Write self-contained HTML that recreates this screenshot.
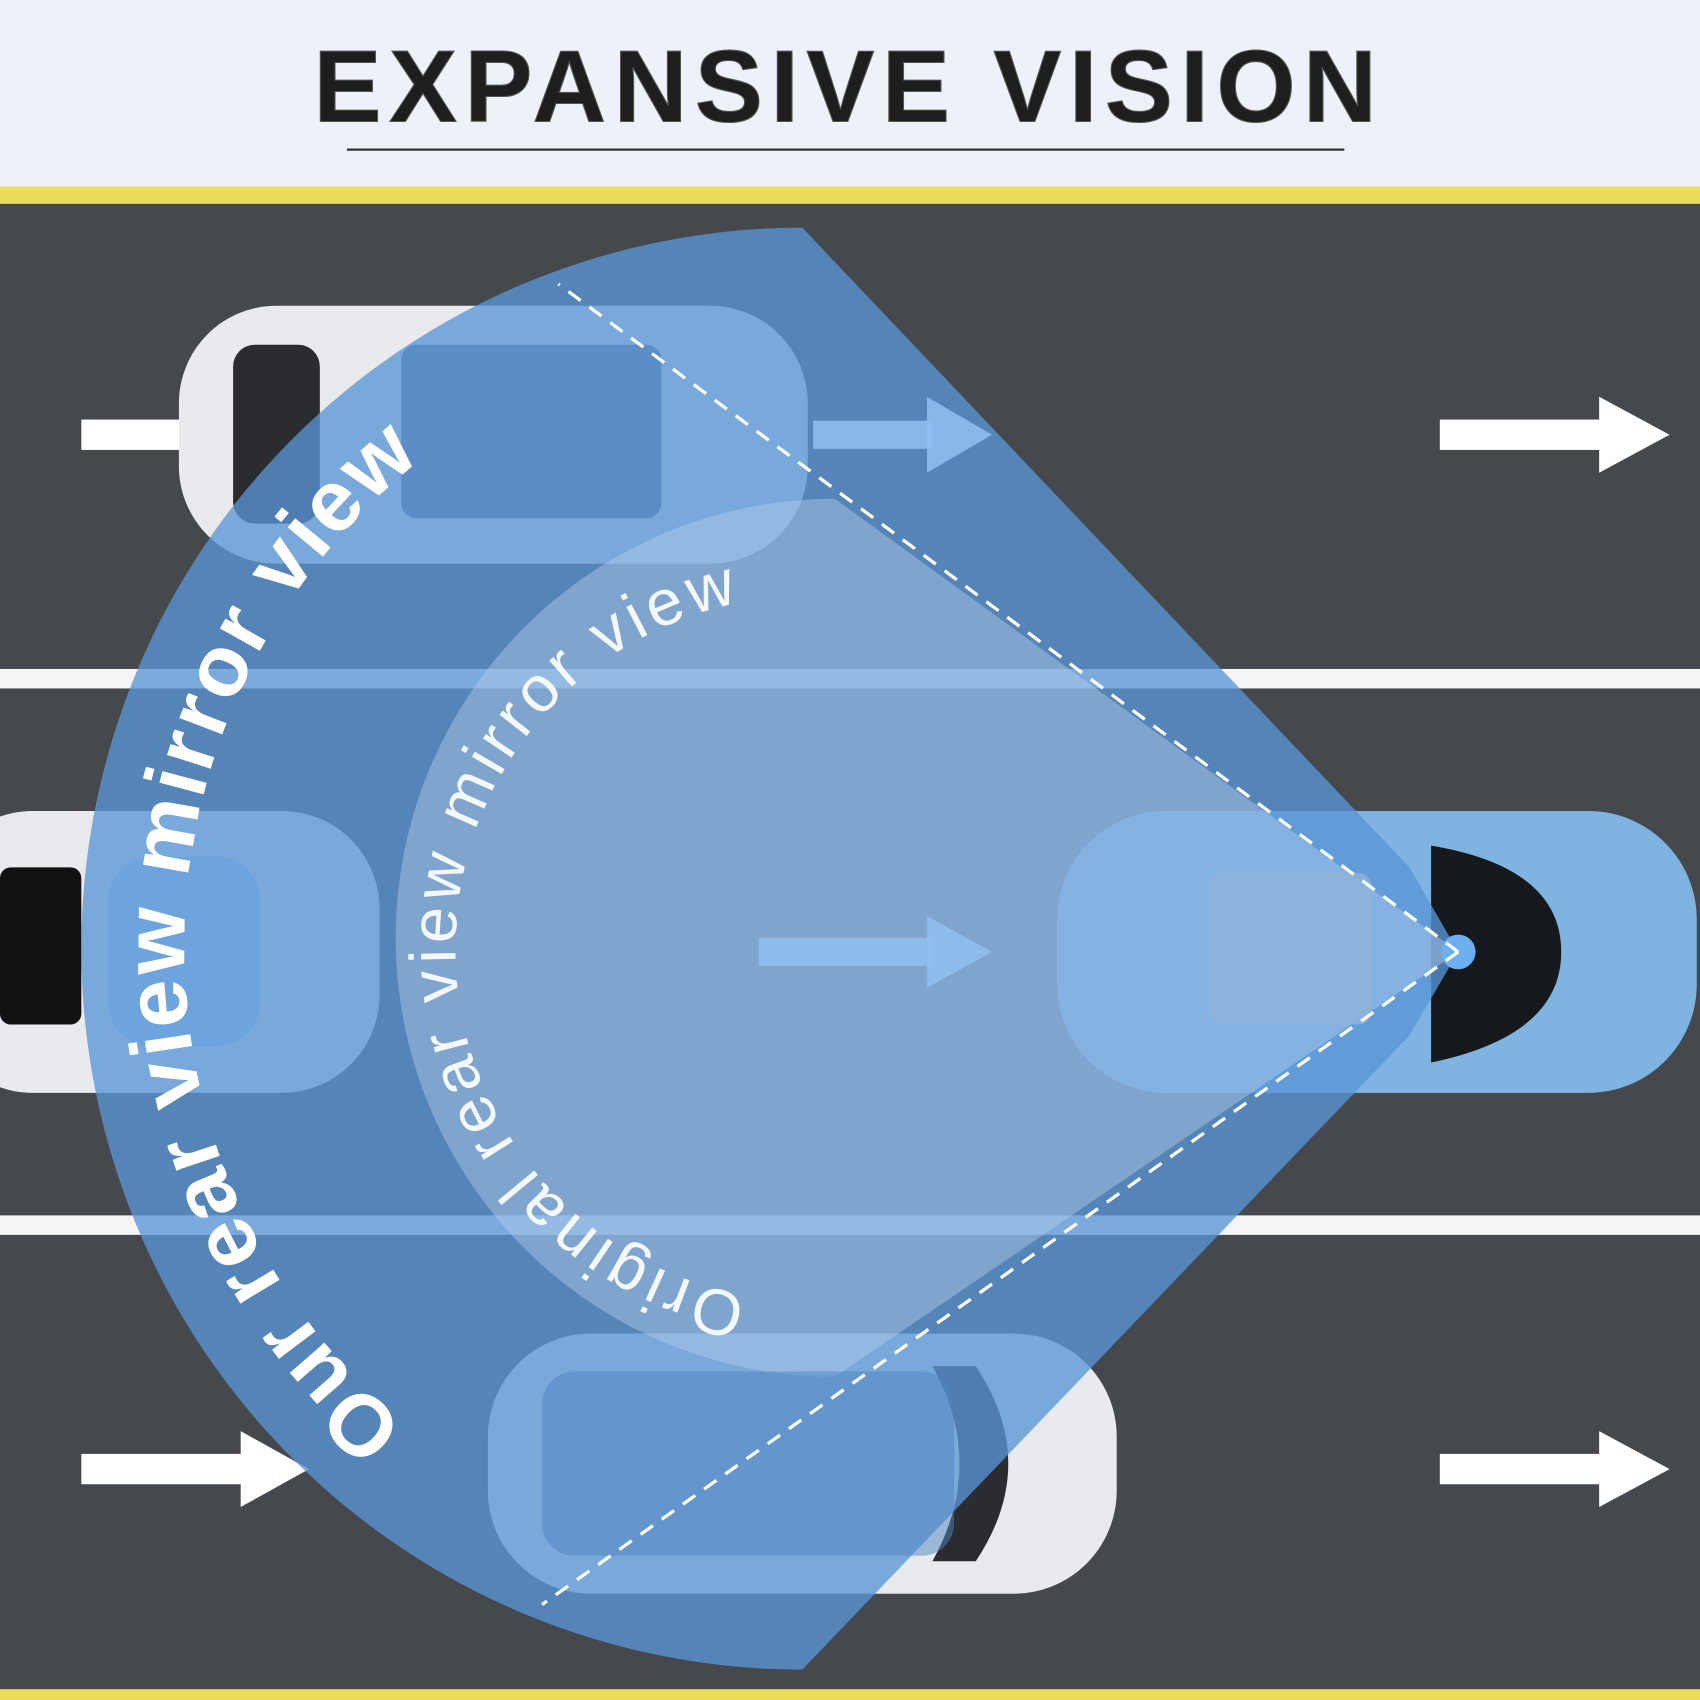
<!DOCTYPE html>
<html><head><meta charset="utf-8"><style>
html,body{margin:0;padding:0;background:#eef2f8}
svg{display:block}
</style></head><body>
<svg width="1700" height="1700" viewBox="0 0 1568 1568" xmlns="http://www.w3.org/2000/svg">
<defs>
<path id="outer" d="M 375 1315 A 575 575 0 0 1 415 404"/>
<path id="inner" d="M 689 1195 A 325 325 0 0 1 700 553"/>
</defs>
<rect x="0" y="0" width="1568" height="175" fill="#eef2f8"/>
<text x="783" y="112" text-anchor="middle" font-family="Liberation Sans, sans-serif" font-weight="bold" font-size="94" letter-spacing="7" fill="#1e1e1e" stroke="#555" stroke-width="1">EXPANSIVE VISION</text>
<line x1="320" y1="138" x2="1240" y2="138" stroke="#333" stroke-width="2"/>
<rect x="0" y="172" width="1568" height="16" fill="#e9dc58"/>
<rect x="0" y="188" width="1568" height="1372" fill="#45484c"/>
<rect x="0" y="1558" width="1568" height="10" fill="#e9dc58"/>
<rect x="0" y="617" width="1568" height="18" fill="#f4f4f4"/>
<rect x="0" y="1121" width="1568" height="18" fill="#f4f4f4"/>
<g fill="#fff">
<rect x="75" y="387" width="95" height="28"/>
<rect x="1328" y="387" width="150" height="28"/><polygon points="1475,366 1540,401 1475,436"/>
<rect x="1328" y="1341" width="150" height="28"/><polygon points="1475,1320 1540,1355 1475,1390"/>
<rect x="75" y="1341" width="150" height="28"/><polygon points="222,1320 285,1355 222,1390"/>
</g>
<g>
<rect x="165" y="282" width="580" height="238" rx="90" fill="#e8eaed"/>
<rect x="215" y="318" width="80" height="165" rx="20" fill="#2a2c30"/>
<rect x="-60" y="748" width="410" height="260" rx="90" fill="#e8eaed"/>
<rect x="0" y="800" width="75" height="145" rx="10" fill="#111"/>
<rect x="975" y="748" width="590" height="260" rx="100" fill="#7fb4e0"/>
<path d="M1320 780 Q1440 800 1440 878 Q1440 955 1320 980 Z" fill="#15191e"/>
<rect x="450" y="1230" width="580" height="240" rx="95" fill="#e8eaed"/>
<path d="M900 1260 Q960 1350 900 1440 L860 1440 Q910 1350 860 1260 Z" fill="#2a2c30"/>
</g>
<path d="M740 210 L1300 800 L1345 878 L1300 955 L740 1540 A665 665 0 0 1 740 210 Z" fill="#5a95d6" fill-opacity="0.78"/>
<path d="M770 460 L1345 878 L770 1270 A405 405 0 0 1 770 460 Z" fill="#b4cfee" fill-opacity="0.45"/>
<rect x="370" y="318" width="240" height="160" rx="14" fill="#4f82bd" fill-opacity="0.7"/>
<rect x="100" y="790" width="140" height="175" rx="40" fill="#6aa3e0" fill-opacity="0.7"/>
<rect x="1115" y="805" width="150" height="140" rx="12" fill="#8fb3d8" fill-opacity="0.8"/>
<rect x="500" y="1265" width="380" height="170" rx="30" fill="#4f82bd" fill-opacity="0.5"/>
<circle cx="1345" cy="878" r="16" fill="#6db0f0"/>
<g fill="#8fc0f0" fill-opacity="0.85">
<rect x="750" y="388" width="110" height="26"/><polygon points="855,366 915,401 855,436"/>
<rect x="700" y="865" width="160" height="26"/><polygon points="855,845 915,878 855,911"/>
</g>
<g stroke="#fff" stroke-width="3" stroke-dasharray="14 10" fill="none">
<line x1="1345" y1="878" x2="515" y2="262"/>
<line x1="1345" y1="878" x2="500" y2="1480"/>
</g>
<text font-family="Liberation Sans, sans-serif" font-weight="bold" font-size="80" fill="#fff"><textPath href="#outer" textLength="1020" lengthAdjust="spacing">Our rear view mirror view</textPath></text>
<text font-family="Liberation Sans, sans-serif" font-size="60" fill="#fff" fill-opacity="0.92"><textPath href="#inner" textLength="900" lengthAdjust="spacing">Original rear view mirror view</textPath></text>
</svg>
</body></html>
